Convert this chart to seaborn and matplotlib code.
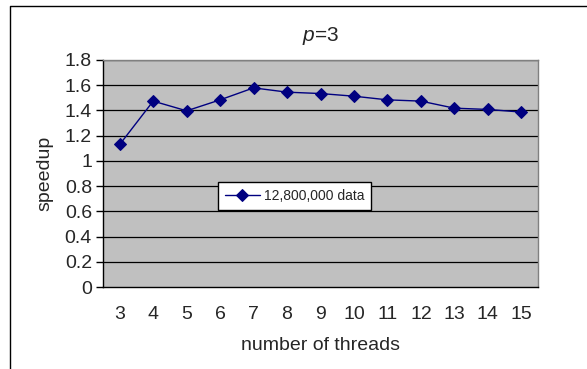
import matplotlib
matplotlib.use("Agg")
import matplotlib.pyplot as plt
import seaborn as sns
import pandas as pd
from matplotlib.lines import Line2D

# Datos
threads = ["3", "4", "5", "6", "7", "8", "9", "10", "11", "12", "13", "14", "15"]
speedup = [1.13, 1.474, 1.397, 1.484, 1.579, 1.545, 1.534, 1.513, 1.484, 1.474, 1.418, 1.408, 1.387]
serie = "12,800,000 data"
y_ticks = [0, 0.2, 0.4, 0.6, 0.8, 1, 1.2, 1.4, 1.6, 1.8]
y_labels = ["0", "0.2", "0.4", "0.6", "0.8", "1", "1.2", "1.4", "1.6", "1.8"]

sns.set_style("white")
plt.rcParams["font.family"] = ["Liberation Sans", "DejaVu Sans"]
plt.rcParams["mathtext.fontset"] = "custom"
plt.rcParams["mathtext.it"] = "Liberation Sans:italic"
plt.rcParams["mathtext.rm"] = "Liberation Sans"

df = pd.DataFrame({"pos": range(len(threads)), "speedup": speedup, "serie": serie})

fig = plt.figure(figsize=(5.87, 3.69), dpi=100)
ax = fig.add_axes([103 / 587, 1 - 287 / 369, 435 / 587, 227 / 369])
ax.set_facecolor("#C0C0C0")

for y in y_ticks[1:]:
    ax.axhline(y, color="black", lw=0.9, zorder=1)

sns.lineplot(data=df, x="pos", y="speedup", hue="serie", palette=["#000080"],
             marker="D", markersize=6, markeredgecolor="#000080", lw=1,
             sort=False, ax=ax, zorder=3)

ax.set_xlim(-0.5, len(threads) - 0.5)
ax.set_ylim(0, 1.8)
ax.set_yticks(y_ticks)
ax.set_yticklabels(y_labels, fontsize=14)
ax.set_xticks(range(len(threads)))
ax.set_xticklabels(threads, fontsize=14)
ax.set_xticks([i - 0.5 for i in range(len(threads) + 1)], minor=True)
ax.tick_params(axis="x", which="major", length=0, pad=14)
ax.tick_params(axis="x", which="minor", length=4, width=1, color="black", direction="in")
ax.tick_params(axis="y", length=5, width=1, color="black", direction="out", pad=3, left=True)

for s in ["top", "right"]:
    ax.spines[s].set_color("#808080")
    ax.spines[s].set_linewidth(1)
for s in ["left", "bottom"]:
    ax.spines[s].set_color("black")
    ax.spines[s].set_linewidth(1)

ax.set_xlabel("number of threads", fontsize=14, labelpad=10)
ax.set_ylabel("speedup", fontsize=14, labelpad=8)
ax.set_title("$p$=3", fontsize=15, pad=14)

leg = ax.legend(loc="lower left", bbox_to_anchor=(0.264, 0.339), fontsize=10,
                frameon=True, fancybox=False, borderpad=0.5, handlelength=2.5,
                handletextpad=0.3, borderaxespad=0)
leg.get_frame().set_edgecolor("black")
leg.get_frame().set_linewidth(1)
leg.get_frame().set_facecolor("white")
leg.get_frame().set_alpha(1)

# marco exterior
fx = 10 / 587
fy = 1 - 6 / 369
fig.add_artist(Line2D([fx, fx, 1], [0, fy, fy], color="black", lw=1, transform=fig.transFigure))

plt.savefig("out.png", dpi=100)
